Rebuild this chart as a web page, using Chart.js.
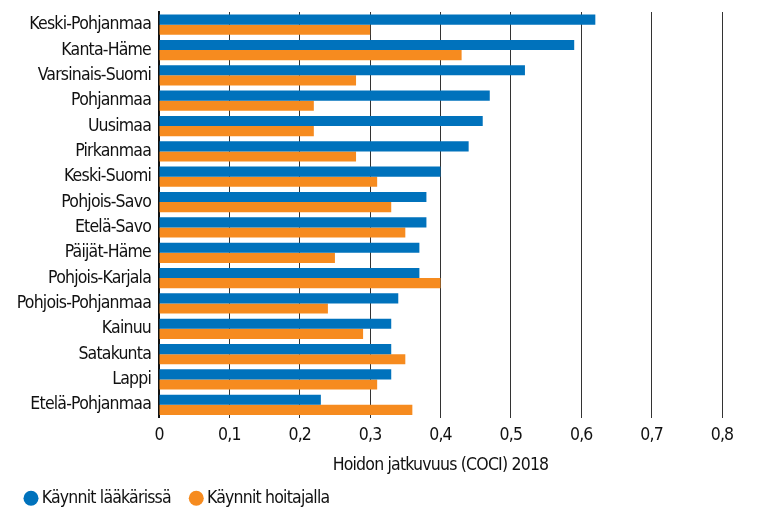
<!DOCTYPE html>
<html lang="fi">
<head>
<meta charset="utf-8">
<title>Hoidon jatkuvuus (COCI) 2018</title>
<script src="https://cdn.jsdelivr.net/npm/chart.js@4.4.1/dist/chart.umd.min.js"></script>
<style>
  html, body { margin: 0; padding: 0; background: #fff; }
  #wrap { position: relative; width: 758px; height: 523px; }
</style>
</head>
<body>
<div id="wrap"><canvas id="chart" width="758" height="523"></canvas></div>
<script>
  // Data
  const regions = [
    'Keski-Pohjanmaa', 'Kanta-Häme', 'Varsinais-Suomi', 'Pohjanmaa', 'Uusimaa',
    'Pirkanmaa', 'Keski-Suomi', 'Pohjois-Savo', 'Etelä-Savo', 'Päijät-Häme',
    'Pohjois-Karjala', 'Pohjois-Pohjanmaa', 'Kainuu', 'Satakunta', 'Lappi',
    'Etelä-Pohjanmaa'
  ];
  const doctorVisits = [0.62, 0.59, 0.52, 0.47, 0.46, 0.44, 0.40, 0.38, 0.38, 0.37, 0.37, 0.34, 0.33, 0.33, 0.33, 0.23];
  const nurseVisits  = [0.30, 0.43, 0.28, 0.22, 0.22, 0.28, 0.31, 0.33, 0.35, 0.25, 0.40, 0.24, 0.29, 0.35, 0.31, 0.36];
  const seriesNames = ['Käynnit lääkärissä', 'Käynnit hoitajalla'];
  const xTicks = [0, 0.1, 0.2, 0.3, 0.4, 0.5, 0.6, 0.7, 0.8];
  const axisTitle = 'Hoidon jatkuvuus (COCI) 2018';

  const BLUE = '#0072bc';
  const ORANGE = '#f68b1f';
  const FONT = '"DejaVu Sans Condensed", "DejaVu Sans", sans-serif';
  const SIZE = 17.5;

  const fmt = (v) => {
    const r = Math.round(v * 10) / 10;
    return r === 0 ? '0' : r.toFixed(1).replace('.', ',');
  };

  // tighter letters, the original uses a condensed face
  const tightText = {
    id: 'tightText',
    beforeUpdate(chart) { chart.ctx.letterSpacing = '-0.8px'; },
    beforeDraw(chart) { chart.ctx.letterSpacing = '-0.8px'; }
  };

  new Chart(document.getElementById('chart'), {
    type: 'bar',
    plugins: [tightText],
    data: {
      labels: regions,
      datasets: [
        { label: seriesNames[0], data: doctorVisits, backgroundColor: BLUE },
        { label: seriesNames[1], data: nurseVisits, backgroundColor: ORANGE }
      ]
    },
    options: {
      indexAxis: 'y',
      responsive: false,
      animation: false,
      devicePixelRatio: 1,
      datasets: { bar: { categoryPercentage: 0.8, barPercentage: 1.0 } },
      layout: { padding: { top: 12, left: 15, right: 36, bottom: 6 } },
      font: { family: FONT },
      plugins: {
        tooltip: { enabled: false },
        legend: {
          position: 'bottom',
          align: 'start',
          labels: {
            usePointStyle: true,
            pointStyle: 'circle',
            boxWidth: 4,
            boxHeight: 10.6,
            padding: 14,
            color: '#111',
            font: { family: FONT, size: SIZE },
            // a little extra room after the first entry
            generateLabels: (chart) => {
              const items = Chart.defaults.plugins.legend.labels.generateLabels(chart);
              items[0].text += '\u2002\u2009';
              return items;
            }
          }
        }
      },
      scales: {
        x: {
          min: 0,
          max: 0.8,
          afterBuildTicks: (scale) => { scale.ticks = xTicks.map(v => ({ value: v })); },
          afterFit: (scale) => { scale.height = 58; },
          grid: { color: '#333', lineWidth: 1, drawTicks: false },
          border: { display: false },
          ticks: {
            padding: 7,
            color: '#111',
            font: { family: FONT, size: SIZE },
            callback: (v) => fmt(v)
          },
          title: {
            display: true,
            text: axisTitle,
            color: '#111',
            padding: { top: 0, bottom: 0 },
            font: { family: FONT, size: SIZE }
          }
        },
        y: {
          grid: { display: false, drawTicks: false },
          border: { display: true, color: '#111', width: 2 },
          afterFit: (scale) => {
            scale.width = 144;
            scale.paddingTop = 0;
            scale.paddingBottom = 0;
          },
          ticks: {
            padding: 8,
            color: '#111',
            autoSkip: false,
            font: { family: FONT, size: SIZE }
          }
        }
      }
    }
  });
</script>
</body>
</html>
